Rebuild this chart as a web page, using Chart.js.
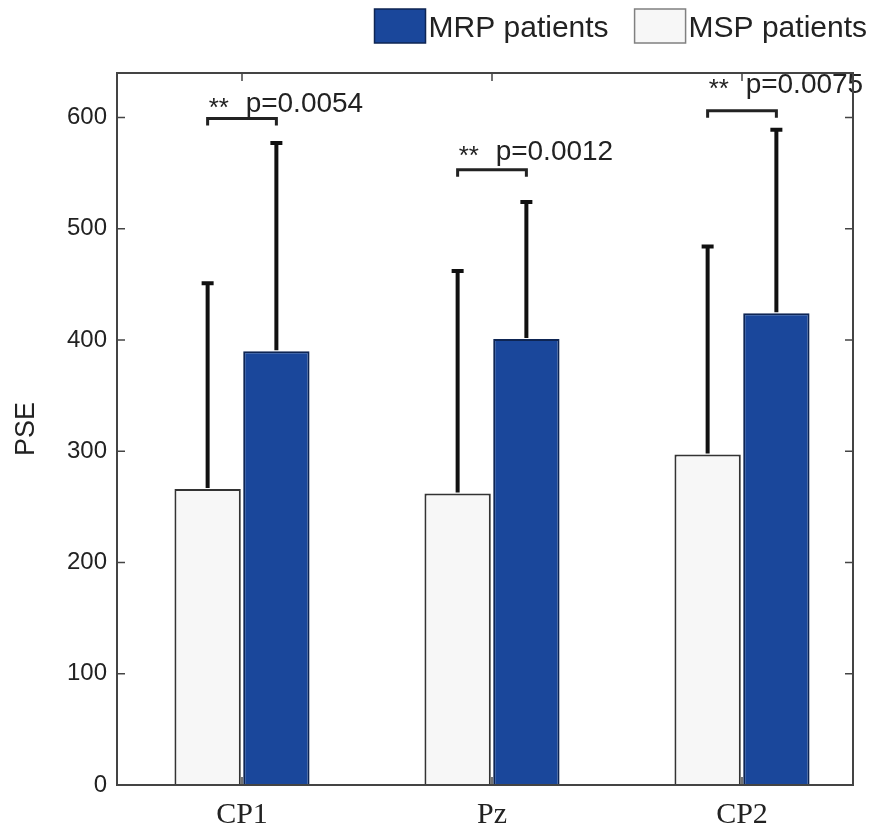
<!DOCTYPE html>
<html>
<head>
<meta charset="utf-8">
<title>PSE by channel</title>
<script src="https://cdn.jsdelivr.net/npm/chart.js@4.4.1/dist/chart.umd.min.js"></script>
<style>
    html, body { margin: 0; padding: 0; background: #fff; }
    canvas { display: block; }
</style>
</head>
<body>
<canvas id="pseChart" width="874" height="832"></canvas>
<script>
// Data
const channels = ['CP1', 'Pz', 'CP2'];
const mspMean = [266, 262, 297];
const mspSD = [185, 200, 187];
const mrpMean = [390, 401, 424];
const mrpSD = [187, 123, 165];
const yTicks = [0, 100, 200, 300, 400, 500, 600];

// Significance annotations
const pValues = ['p=0.0054', 'p=0.0012', 'p=0.0075'];
const stars = ['**', '**', '**'];
const bracketLevel = [599, 553, 606];
const pLabelLevel = [605, 562, 622];

const SANS = '"Liberation Sans", Arial, sans-serif';
const SERIF = '"Liberation Serif", "Times New Roman", serif';
const MRP_BLUE = '#1a479b';
const MRP_EDGE = '#0e2553';
const MSP_FILL = '#f7f7f7';
const MSP_EDGE = '#333333';

// Error bars (upper only, with cap)
const errorBarPlugin = {
    id: 'errorBars',
    afterDatasetsDraw(chart) {
        const ctx = chart.ctx;
        const y = chart.scales.y;
        const means = [mspMean, mrpMean];
        const sds = [mspSD, mrpSD];
        ctx.save();
        ctx.strokeStyle = '#111';
        ctx.lineWidth = 4;
        means.forEach((m, di) => {
            chart.getDatasetMeta(di).data.forEach((bar, i) => {
                const top = y.getPixelForValue(m[i] + sds[di][i]);
                ctx.beginPath();
                ctx.moveTo(bar.x, bar.y - 1);
                ctx.lineTo(bar.x, top);
                ctx.moveTo(bar.x - 6, top);
                ctx.lineTo(bar.x + 6, top);
                ctx.stroke();
            });
        });
        ctx.restore();
    }
};

// Brackets with p values
const bracketPlugin = {
    id: 'brackets',
    afterDatasetsDraw(chart) {
        const ctx = chart.ctx;
        const y = chart.scales.y;
        const left = chart.getDatasetMeta(0).data;
        const right = chart.getDatasetMeta(1).data;
        ctx.save();
        ctx.strokeStyle = '#222';
        ctx.lineWidth = 3;
        ctx.fillStyle = '#222';
        ctx.textBaseline = 'alphabetic';
        channels.forEach((c, i) => {
            const x1 = left[i].x;
            const x2 = right[i].x;
            const yb = y.getPixelForValue(bracketLevel[i]);
            ctx.beginPath();
            ctx.moveTo(x1, yb + 7);
            ctx.lineTo(x1, yb);
            ctx.lineTo(x2, yb);
            ctx.lineTo(x2, yb + 7);
            ctx.stroke();

            const yt = y.getPixelForValue(pLabelLevel[i]);
            ctx.font = '26px ' + SANS;
            ctx.fillText(stars[i], x1 + 1, yt + 4);
            ctx.font = '28px ' + SANS;
            ctx.fillText(pValues[i], x1 + 38, yt);
        });
        ctx.restore();
    }
};

// Box frame with inward ticks
const framePlugin = {
    id: 'frame',
    afterDraw(chart) {
        const ctx = chart.ctx;
        const ca = chart.chartArea;
        const x = chart.scales.x;
        const y = chart.scales.y;
        ctx.save();
        ctx.strokeStyle = '#444';
        ctx.lineWidth = 2;
        ctx.strokeRect(ca.left, ca.top, ca.right - ca.left, ca.bottom - ca.top);
        ctx.lineWidth = 1.5;
        ctx.beginPath();
        yTicks.forEach(v => {
            const py = y.getPixelForValue(v);
            ctx.moveTo(ca.left, py);
            ctx.lineTo(ca.left + 8, py);
            ctx.moveTo(ca.right, py);
            ctx.lineTo(ca.right - 8, py);
        });
        channels.forEach((c, i) => {
            const px = x.getPixelForValue(i + 1);
            ctx.moveTo(px, ca.bottom);
            ctx.lineTo(px, ca.bottom - 8);
            ctx.moveTo(px, ca.top);
            ctx.lineTo(px, ca.top + 8);
        });
        ctx.stroke();
        ctx.restore();
    }
};

// Legend above the plot, right aligned, MRP first
const legendPlugin = {
    id: 'topLegend',
    afterDraw(chart) {
        const ctx = chart.ctx;
        const ds = chart.data.datasets;
        const items = [ds[1], ds[0]];
        ctx.save();
        ctx.font = '30px ' + SANS;
        ctx.textBaseline = 'alphabetic';
        let right = 867;
        for (let k = items.length - 1; k >= 0; k--) {
            const it = items[k];
            const tw = ctx.measureText(it.label).width;
            const tx = right - tw;
            const bx = tx - 3 - 51;
            ctx.fillStyle = it.backgroundColor;
            ctx.fillRect(bx, 9, 51, 34);
            ctx.strokeStyle = k === 0 ? MRP_EDGE : '#808080';
            ctx.lineWidth = 1.5;
            ctx.strokeRect(bx, 9, 51, 34);
            ctx.fillStyle = '#222';
            ctx.fillText(it.label, tx, 37);
            right = bx - 26;
        }
        ctx.restore();
    }
};

const ctx = document.getElementById('pseChart').getContext('2d');

new Chart(ctx, {
    type: 'bar',
    data: {
        datasets: [
            {
                label: 'MSP patients',
                data: channels.map((c, i) => ({ x: i + 1, y: mspMean[i] })),
                backgroundColor: MSP_FILL,
                borderColor: MSP_EDGE,
                borderWidth: 2
            },
            {
                label: 'MRP patients',
                data: channels.map((c, i) => ({ x: i + 1, y: mrpMean[i] })),
                backgroundColor: MRP_BLUE,
                borderColor: MRP_EDGE,
                borderWidth: 2
            }
        ]
    },
    options: {
        responsive: false,
        animation: false,
        categoryPercentage: 0.55,
        barPercentage: 0.965,
        layout: { padding: { top: 73, right: 21, bottom: 0, left: 0 } },
        plugins: {
            legend: { display: false },
            tooltip: { enabled: true }
        },
        scales: {
            x: {
                type: 'linear',
                offset: false,
                min: 0.5,
                max: 3.444,
                afterBuildTicks: s => { s.ticks = channels.map((c, i) => ({ value: i + 1 })); },
                ticks: {
                    callback: v => channels[Math.round(v) - 1] || '',
                    font: { family: SERIF, size: 30 },
                    color: '#222',
                    padding: 12,
                    maxRotation: 0,
                    autoSkip: false
                },
                grid: { display: false, drawTicks: false },
                border: { display: false },
                afterFit: s => { s.height = 47; }
            },
            y: {
                min: 0,
                max: 640,
                afterBuildTicks: s => { s.ticks = yTicks.map(v => ({ value: v })); },
                ticks: {
                    font: { family: SANS, size: 24 },
                    color: '#222',
                    padding: 10
                },
                grid: { display: false, drawTicks: false },
                border: { display: false },
                title: {
                    display: true,
                    text: 'PSE',
                    font: { family: SANS, size: 27 },
                    color: '#222',
                    padding: { top: 10, bottom: 0 }
                },
                afterFit: s => { s.width = 117; }
            }
        }
    },
    plugins: [errorBarPlugin, bracketPlugin, framePlugin, legendPlugin]
});
</script>
</body>
</html>
